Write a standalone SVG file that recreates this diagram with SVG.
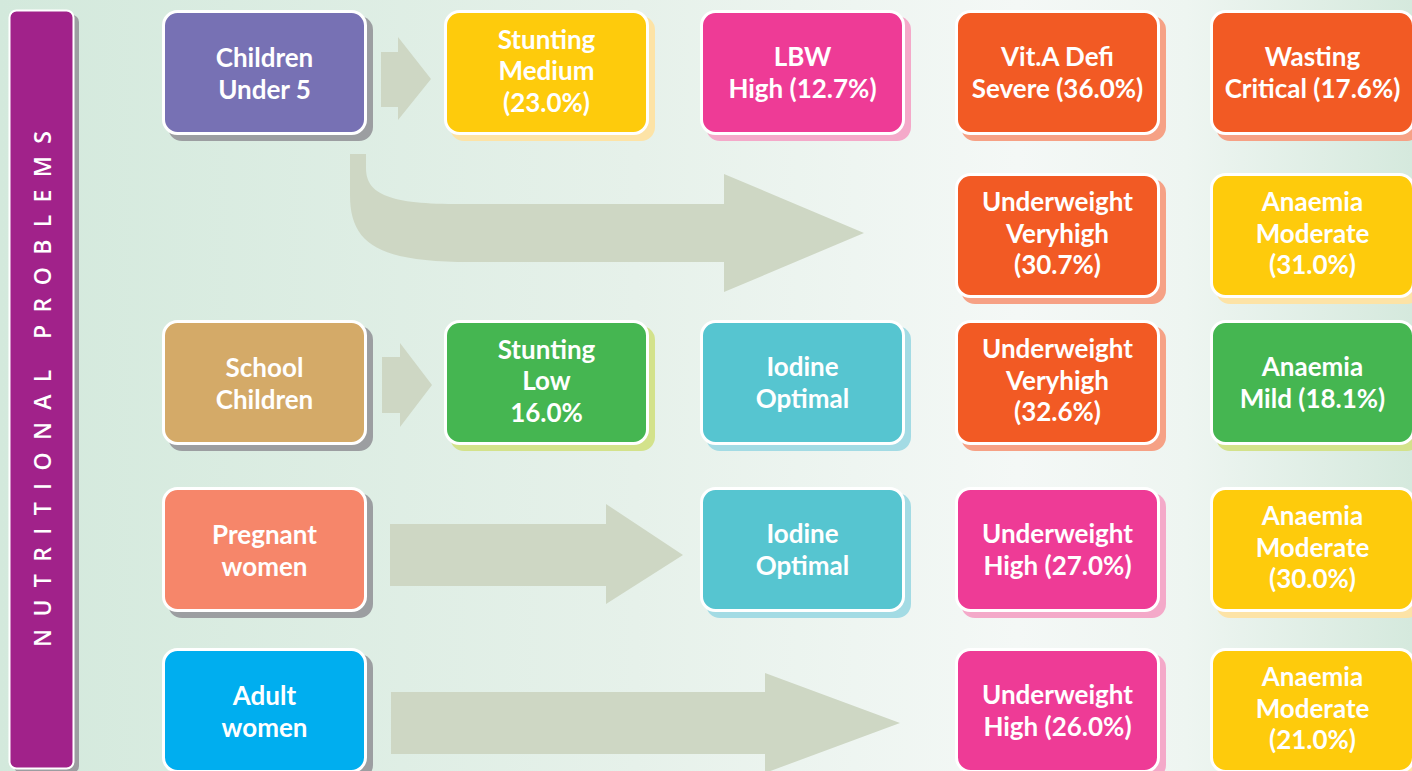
<svg xmlns="http://www.w3.org/2000/svg" width="1412" height="771" viewBox="0 0 1412 771">
<defs>
<linearGradient id="bg" x1="0" y1="0" x2="1" y2="0">
<stop offset="0" stop-color="#d3e9dc"/>
<stop offset="0.45" stop-color="#e6f1ea"/>
<stop offset="0.72" stop-color="#f4f8f6"/>
<stop offset="0.84" stop-color="#eef5f1"/>
<stop offset="1" stop-color="#d5e9dd"/>
</linearGradient>
<style>
.box{stroke:#ffffff;stroke-width:3}
.t{font-family:Lato,"Open Sans","Liberation Sans",sans-serif;font-weight:bold;font-size:26px;fill:#ffffff;text-anchor:middle}
.side{font-family:"Open Sans","Liberation Sans",sans-serif;font-weight:600;font-size:23px;fill:#ffffff;text-anchor:middle}
.arr{fill:#ced7c4}
</style>
</defs>
<rect x="0" y="0" width="1412" height="771" fill="url(#bg)"/>

<g id="sidebar">
<rect x="14" y="15" width="65" height="758" rx="7" fill="#9c9ea1"/>
<rect x="9.5" y="10.5" width="64" height="758" rx="7" fill="#a1228a" stroke="#ffffff" stroke-width="2"/>
<text class="side" transform="translate(51,389) rotate(-90)" textLength="516" lengthAdjust="spacing">NUTRITIONAL PROBLEMS</text>
</g>

<g id="connectors">
<polygon class="arr" points="381,52 398,52 398,37 431,79 398,120 398,107 381,107"/>
<path class="arr" d="M350,154 H366 V168 C366,192 385,204 455,204 H724 V174 L864,233 L724,292 V262 H470 C380,262 350,245 350,195 Z"/>
<polygon class="arr" points="382,357 400,357 400,343 432,385 400,427 400,413 382,413"/>
<polygon class="arr" points="390,524 606,524 606,504 683,555 606,604 606,586 390,586"/>
<polygon class="arr" points="391,692 765,692 765,673 900,723 765,773 765,754 391,754"/>
</g>

<g id="n1">
<rect x="168" y="16" width="205" height="125" rx="14" fill="#9c9ea1"/>
<rect class="box" x="163.5" y="11.5" width="202" height="122" rx="14" fill="#7771b4"/>
<text class="t" x="264.5" y="66.5">Children</text>
<text class="t" x="264.5" y="98.5">Under 5</text>
</g>
<g id="n2">
<rect x="450" y="16" width="205" height="125" rx="14" fill="#fde3a6"/>
<rect class="box" x="445.5" y="11.5" width="202" height="122" rx="14" fill="#fecb0c"/>
<text class="t" x="546.5" y="48.5">Stunting</text>
<text class="t" x="546.5" y="80">Medium</text>
<text class="t" x="546.5" y="111.5">(23.0%)</text>
</g>
<g id="n3">
<rect x="706" y="16" width="205" height="125" rx="14" fill="#f4a9c9"/>
<rect class="box" x="701.5" y="11.5" width="202" height="122" rx="14" fill="#ee3b96"/>
<text class="t" x="802.5" y="65.5">LBW</text>
<text class="t" x="802.5" y="97.5">High (12.7%)</text>
</g>
<g id="n4">
<rect x="961" y="16" width="205" height="125" rx="14" fill="#f6a185"/>
<rect class="box" x="956.5" y="11.5" width="202" height="122" rx="14" fill="#f25a24"/>
<text class="t" x="1057.5" y="65.5">Vit.A Defi</text>
<text class="t" x="1057.5" y="97.5">Severe (36.0%)</text>
</g>
<g id="n5">
<rect x="1216" y="16" width="205" height="125" rx="14" fill="#f6a185"/>
<rect class="box" x="1211.5" y="11.5" width="202" height="122" rx="14" fill="#f25a24"/>
<text class="t" x="1312.5" y="65.5">Wasting</text>
<text class="t" x="1312.5" y="97.5">Critical (17.6%)</text>
</g>

<g id="n6">
<rect x="961" y="179" width="205" height="125" rx="14" fill="#f6a185"/>
<rect class="box" x="956.5" y="174.5" width="202" height="122" rx="14" fill="#f25a24"/>
<text class="t" x="1057.5" y="211">Underweight</text>
<text class="t" x="1057.5" y="242.5">Veryhigh</text>
<text class="t" x="1057.5" y="274">(30.7%)</text>
</g>
<g id="n7">
<rect x="1216" y="179" width="205" height="125" rx="14" fill="#fde3a6"/>
<rect class="box" x="1211.5" y="174.5" width="202" height="122" rx="14" fill="#fecb0c"/>
<text class="t" x="1312.5" y="211">Anaemia</text>
<text class="t" x="1312.5" y="242.5">Moderate</text>
<text class="t" x="1312.5" y="274">(31.0%)</text>
</g>

<g id="n8">
<rect x="168" y="326" width="205" height="125" rx="14" fill="#9c9ea1"/>
<rect class="box" x="163.5" y="321.5" width="202" height="122" rx="14" fill="#d4aa68"/>
<text class="t" x="264.5" y="376.5">School</text>
<text class="t" x="264.5" y="408.5">Children</text>
</g>
<g id="n9">
<rect x="450" y="326" width="205" height="125" rx="14" fill="#d3e28b"/>
<rect class="box" x="445.5" y="321.5" width="202" height="122" rx="14" fill="#45b651"/>
<text class="t" x="546.5" y="358.5">Stunting</text>
<text class="t" x="546.5" y="390">Low</text>
<text class="t" x="546.5" y="421.5">16.0%</text>
</g>
<g id="n10">
<rect x="706" y="326" width="205" height="125" rx="14" fill="#a3dbe4"/>
<rect class="box" x="701.5" y="321.5" width="202" height="122" rx="14" fill="#56c5d0"/>
<text class="t" x="802.5" y="375.5">Iodine</text>
<text class="t" x="802.5" y="407.5">Optimal</text>
</g>
<g id="n11">
<rect x="961" y="326" width="205" height="125" rx="14" fill="#f6a185"/>
<rect class="box" x="956.5" y="321.5" width="202" height="122" rx="14" fill="#f25a24"/>
<text class="t" x="1057.5" y="358">Underweight</text>
<text class="t" x="1057.5" y="389.5">Veryhigh</text>
<text class="t" x="1057.5" y="421">(32.6%)</text>
</g>
<g id="n12">
<rect x="1216" y="326" width="205" height="125" rx="14" fill="#d3e28b"/>
<rect class="box" x="1211.5" y="321.5" width="202" height="122" rx="14" fill="#45b651"/>
<text class="t" x="1312.5" y="375.5">Anaemia</text>
<text class="t" x="1312.5" y="407.5">Mild (18.1%)</text>
</g>

<g id="n13">
<rect x="168" y="493" width="205" height="125" rx="14" fill="#9c9ea1"/>
<rect class="box" x="163.5" y="488.5" width="202" height="122" rx="14" fill="#f6866a"/>
<text class="t" x="264.5" y="543.5">Pregnant</text>
<text class="t" x="264.5" y="575.5">women</text>
</g>
<g id="n14">
<rect x="706" y="493" width="205" height="125" rx="14" fill="#a3dbe4"/>
<rect class="box" x="701.5" y="488.5" width="202" height="122" rx="14" fill="#56c5d0"/>
<text class="t" x="802.5" y="542.5">Iodine</text>
<text class="t" x="802.5" y="574.5">Optimal</text>
</g>
<g id="n15">
<rect x="961" y="493" width="205" height="125" rx="14" fill="#f4a9c9"/>
<rect class="box" x="956.5" y="488.5" width="202" height="122" rx="14" fill="#ee3b96"/>
<text class="t" x="1057.5" y="542.5">Underweight</text>
<text class="t" x="1057.5" y="574.5">High (27.0%)</text>
</g>
<g id="n16">
<rect x="1216" y="493" width="205" height="125" rx="14" fill="#fde3a6"/>
<rect class="box" x="1211.5" y="488.5" width="202" height="122" rx="14" fill="#fecb0c"/>
<text class="t" x="1312.5" y="525">Anaemia</text>
<text class="t" x="1312.5" y="556.5">Moderate</text>
<text class="t" x="1312.5" y="588">(30.0%)</text>
</g>

<g id="n17">
<rect x="168" y="654" width="205" height="125" rx="14" fill="#9c9ea1"/>
<rect class="box" x="163.5" y="649.5" width="202" height="122" rx="14" fill="#00aeef"/>
<text class="t" x="264.5" y="704.5">Adult</text>
<text class="t" x="264.5" y="736.5">women</text>
</g>
<g id="n18">
<rect x="961" y="654" width="205" height="125" rx="14" fill="#f4a9c9"/>
<rect class="box" x="956.5" y="649.5" width="202" height="122" rx="14" fill="#ee3b96"/>
<text class="t" x="1057.5" y="703.5">Underweight</text>
<text class="t" x="1057.5" y="735.5">High (26.0%)</text>
</g>
<g id="n19">
<rect x="1216" y="654" width="205" height="125" rx="14" fill="#fde3a6"/>
<rect class="box" x="1211.5" y="649.5" width="202" height="122" rx="14" fill="#fecb0c"/>
<text class="t" x="1312.5" y="686">Anaemia</text>
<text class="t" x="1312.5" y="717.5">Moderate</text>
<text class="t" x="1312.5" y="749">(21.0%)</text>
</g>
</svg>
